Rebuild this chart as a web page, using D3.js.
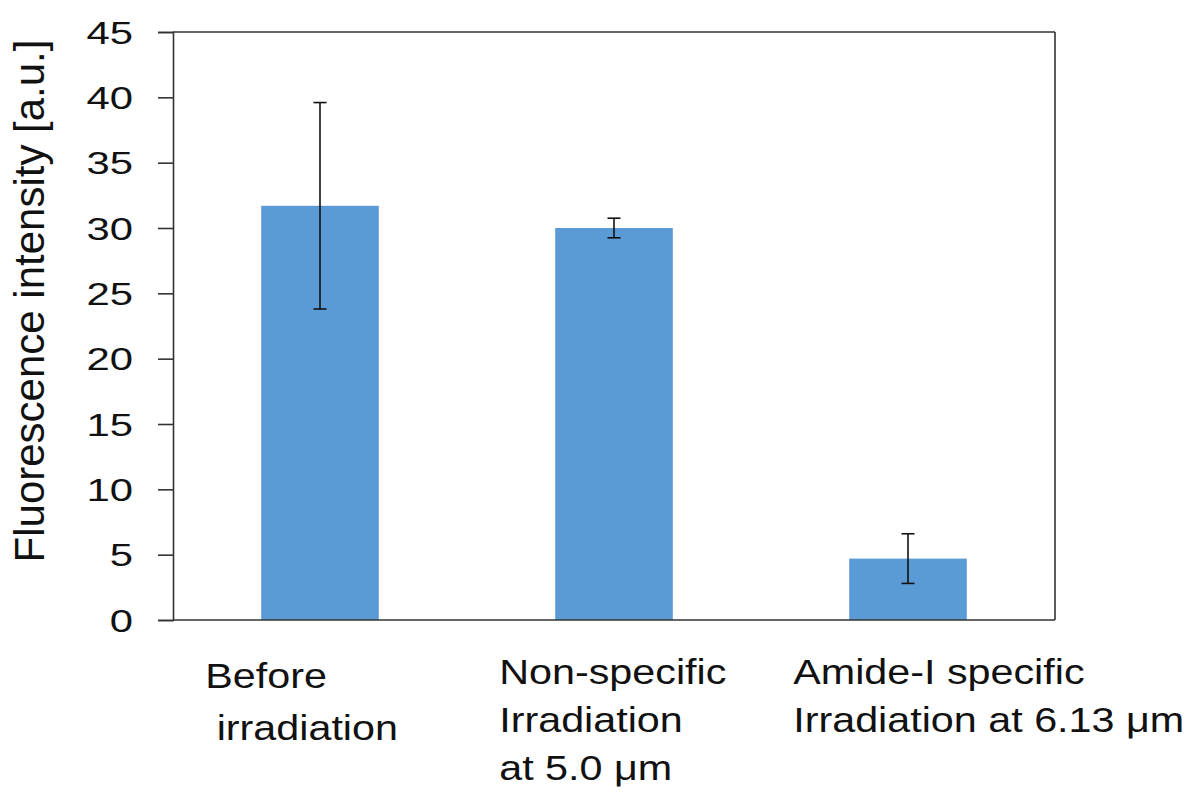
<!DOCTYPE html>
<html>
<head>
<meta charset="utf-8">
<script src="https://cdn.jsdelivr.net/npm/d3@7"></script>
<style>
  html, body { margin: 0; padding: 0; background: #fff; }
  svg { display: block; font-family: "Liberation Sans", Arial, sans-serif; }
</style>
</head>
<body>
<svg id="chart" width="1201" height="795"></svg>
<script>
const categories = ["before", "nonspecific", "amide"];
const categoryLabels = [
  ["Before", "\u00a0irradiation"],
  ["Non-specific", "Irradiation", "at 5.0 \u03bcm"],
  ["Amide-I specific", "Irradiation at 6.13 \u03bcm"]
];
const means = [31.7, 30.0, 4.7];
const errors = [7.9, 0.75, 1.9];
const yTicks = [0, 5, 10, 15, 20, 25, 30, 35, 40, 45];
const yTitle = "Fluorescence intensity [a.u.]";

(function () {
const svg = d3.select("#chart");
const mLeft = 173, mRight = 1055, mTop = 32, mBottom = 620;
const sxTick = 1.35, sxCat = 1.18;

const x = d3.scaleBand().domain(categories).range([mLeft, mRight])
  .paddingInner(0.6).paddingOuter(0.3);
const y = d3.scaleLinear().domain([0, 45]).range([mBottom, mTop]);

// bars
svg.append("g").selectAll("rect").data(categories).join("rect")
  .attr("x", d => x(d)).attr("width", x.bandwidth())
  .attr("y", (d, i) => y(means[i])).attr("height", (d, i) => y(0) - y(means[i]))
  .attr("fill", "#5B9BD5");

// error bars
const eg = svg.append("g").attr("stroke", "#111").attr("stroke-width", 1.6).attr("fill", "none");
categories.forEach((c, i) => {
  const cx = x(c) + x.bandwidth() / 2;
  const y1 = y(means[i] + errors[i]), y2 = y(means[i] - errors[i]);
  eg.append("line").attr("x1", cx).attr("x2", cx).attr("y1", y1).attr("y2", y2);
  eg.append("line").attr("x1", cx - 6.5).attr("x2", cx + 6.5).attr("y1", y1).attr("y2", y1);
  eg.append("line").attr("x1", cx - 6.5).attr("x2", cx + 6.5).attr("y1", y2).attr("y2", y2);
});

// frame
const fg = svg.append("g").attr("stroke", "#333").attr("stroke-width", 1.6).attr("fill", "none");
fg.append("line").attr("x1", mLeft).attr("x2", mRight).attr("y1", y(45)).attr("y2", y(45));
fg.append("line").attr("x1", mRight).attr("x2", mRight).attr("y1", y(45)).attr("y2", y(0));
fg.append("line").attr("x1", mLeft).attr("x2", mRight).attr("y1", y(0)).attr("y2", y(0));

// y axis
const yAxis = d3.axisLeft(y).tickValues(yTicks).tickSize(15).tickPadding(25).tickFormat(d3.format("d"));
const ag = svg.append("g").attr("transform", `translate(${mLeft},0)`).call(yAxis);
ag.select(".domain").attr("stroke", "#333").attr("stroke-width", 1.6);
ag.selectAll(".tick line").attr("stroke", "#333").attr("stroke-width", 1.6);
ag.selectAll(".tick text")
  .attr("font-size", 31).attr("fill", "#111")
  .attr("font-family", "'Liberation Sans', Arial, sans-serif")
  .attr("x", null).attr("dy", "0.36em")
  .attr("transform", `translate(-40,0) scale(${sxTick},1)`);

// y title
svg.append("text")
  .attr("transform", `translate(44,${(mTop + mBottom) / 2 - 25}) rotate(-90)`)
  .attr("text-anchor", "middle")
  .attr("font-size", 42).attr("fill", "#111")
  .text(yTitle);

// category labels
categories.forEach((c, i) => {
  const tx = x(c) - 56;
  const t = svg.append("text")
    .attr("transform", `translate(${tx},${i === 0 ? 688 : 684}) scale(${sxCat},1)`)
    .attr("font-size", 35).attr("fill", "#111")
    .attr("xml:space", "preserve");
  categoryLabels[i].forEach((line, k) => {
    t.append("tspan").attr("x", 0).attr("dy", k === 0 ? 0 : (i === 0 ? 52 : 48)).text(line);
  });
});
})();
</script>
</body>
</html>
